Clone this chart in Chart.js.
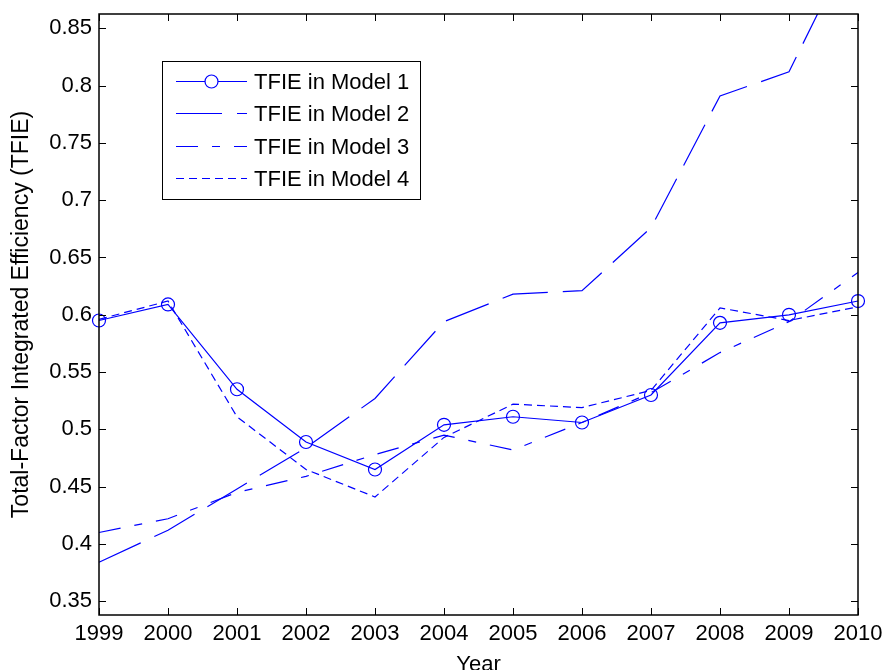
<!DOCTYPE html>
<html>
<head>
<meta charset="utf-8">
<script src="https://cdn.jsdelivr.net/npm/chart.js@4.4.0/dist/chart.umd.min.js"></script>
<style>
  html, body { margin: 0; padding: 0; background: #fff; }
  #wrap { width: 885px; height: 670px; }
</style>
</head>
<body>
<div id="wrap"><canvas id="tfieChart" width="885" height="670"></canvas></div>
<script>
const years  = ['1999','2000','2001','2002','2003','2004','2005','2006','2007','2008','2009','2010'];
const model1 = [0.595, 0.609, 0.535, 0.489, 0.465, 0.504, 0.511, 0.506, 0.530, 0.593, 0.600, 0.612];
const model2 = [0.384, 0.412, 0.448, 0.484, 0.527, 0.594, 0.618, 0.621, 0.676, 0.791, 0.812, 0.934];
const model3 = [0.410, 0.422, 0.445, 0.459, 0.478, 0.495, 0.482, 0.506, 0.532, 0.567, 0.594, 0.637];
const model4 = [0.596, 0.612, 0.511, 0.465, 0.441, 0.493, 0.522, 0.519, 0.534, 0.606, 0.595, 0.607];
const yTicks = [0.35, 0.40, 0.45, 0.50, 0.55, 0.60, 0.65, 0.70, 0.75, 0.80, 0.85];
const seriesNames = ['TFIE in Model 1', 'TFIE in Model 2', 'TFIE in Model 3', 'TFIE in Model 4'];

const BLUE = '#0000ff';
const FONT = 'Liberation Sans, Arial, sans-serif';

// MATLAB style box with inward ticks on all four sides
const boxPlugin = {
  id: 'boxTicks',
  afterDatasetsDraw(chart) {
    const { ctx, chartArea: a, scales: { x, y } } = chart;
    const len = 7;
    ctx.save();
    ctx.strokeStyle = '#000';
    ctx.lineWidth = 1;
    x.ticks.forEach((t, i) => {
      const px = Math.round(x.getPixelForTick(i)) + 0.5;
      ctx.beginPath();
      ctx.moveTo(px, a.bottom); ctx.lineTo(px, a.bottom - len);
      ctx.moveTo(px, a.top);    ctx.lineTo(px, a.top + len);
      ctx.stroke();
    });
    y.ticks.forEach(t => {
      const py = Math.round(y.getPixelForValue(t.value)) + 0.5;
      ctx.beginPath();
      ctx.moveTo(a.left, py);  ctx.lineTo(a.left + len, py);
      ctx.moveTo(a.right, py); ctx.lineTo(a.right - len, py);
      ctx.stroke();
    });
    ctx.lineWidth = 1.5;
    ctx.strokeRect(Math.round(a.left), Math.round(a.top),
                   Math.round(a.right - a.left), Math.round(a.bottom - a.top));
    ctx.restore();
  }
};

// legend box inside the plot, top-left
const legendPlugin = {
  id: 'insideLegend',
  afterDraw(chart) {
    const { ctx } = chart;
    const bx = 162, by = 61, bw = 258, bh = 138;
    ctx.save();
    ctx.fillStyle = '#fff';
    ctx.fillRect(bx, by, bw, bh);
    ctx.strokeStyle = '#000';
    ctx.lineWidth = 1;
    ctx.strokeRect(bx + 0.5, by + 0.5, bw, bh);
    ctx.font = '22px ' + FONT;
    ctx.textBaseline = 'middle';
    chart.data.datasets.forEach((ds, i) => {
      const ry = Math.round(80.5 + i * 32.5) + 0.5;
      ctx.strokeStyle = ds.borderColor;
      ctx.lineWidth = ds.borderWidth;
      ctx.setLineDash(ds.borderDash || []);
      ctx.beginPath();
      ctx.moveTo(176, ry); ctx.lineTo(247, ry);
      ctx.stroke();
      ctx.setLineDash([]);
      if (ds.pointRadius > 0) {
        ctx.beginPath();
        ctx.arc(211.5, ry, ds.pointRadius, 0, Math.PI * 2);
        ctx.fillStyle = '#fff';
        ctx.fill();
        ctx.stroke();
      }
      ctx.fillStyle = '#000';
      ctx.fillText(ds.label, 254, ry + 1);
    });
    ctx.restore();
  }
};

function lineSet(label, data, dash, radius) {
  return {
    label, data,
    borderColor: BLUE,
    backgroundColor: 'rgba(0,0,0,0)',
    borderWidth: 1.2,
    borderDash: dash,
    pointRadius: radius,
    pointBorderColor: BLUE,
    pointBackgroundColor: 'rgba(0,0,0,0)',
    pointBorderWidth: 1.2,
    tension: 0,
    fill: false
  };
}

function noPad(s) {
  s.paddingTop = 0; s.paddingBottom = 0; s.paddingLeft = 0; s.paddingRight = 0;
}

new Chart(document.getElementById('tfieChart').getContext('2d'), {
  type: 'line',
  data: {
    labels: years,
    datasets: [
      lineSet(seriesNames[0], model1, [], 6.5),
      lineSet(seriesNames[1], model2, [46, 15], 0),
      lineSet(seriesNames[2], model3, [22, 14, 8, 14], 0),
      lineSet(seriesNames[3], model4, [8, 5], 0)
    ]
  },
  options: {
    responsive: false,
    animation: false,
    devicePixelRatio: 1,
    layout: { padding: { top: 14, right: 27, left: 0, bottom: 0 } },
    plugins: { legend: { display: false }, tooltip: { enabled: false } },
    scales: {
      x: {
        type: 'category',
        offset: false,
        grid: { display: false, drawTicks: false },
        border: { display: false },
        ticks: { color: '#000', font: { family: FONT, size: 22 }, padding: 6, maxRotation: 0, autoSkip: false },
        title: { display: true, text: 'Year', color: '#000', font: { family: FONT, size: 22 }, padding: { top: 0, bottom: -8 } },
        afterFit(s) { s.height = 55; noPad(s); }
      },
      y: {
        min: 0.338,
        max: 0.8625,
        grid: { display: false, drawTicks: false },
        border: { display: false },
        afterBuildTicks(s) { s.ticks = yTicks.map(v => ({ value: v })); },
        ticks: {
          color: '#000',
          font: { family: FONT, size: 22 },
          padding: 7,
          callback: v => String(Number(v.toFixed(2)))
        },
        title: { display: true, text: 'Total-Factor Integrated Efficiency (TFIE)', color: '#000', font: { family: FONT, size: 23 }, padding: { top: 8, bottom: 0 } },
        afterFit(s) { s.width = 99; noPad(s); }
      }
    }
  },
  plugins: [boxPlugin, legendPlugin]
});
</script>
</body>
</html>
